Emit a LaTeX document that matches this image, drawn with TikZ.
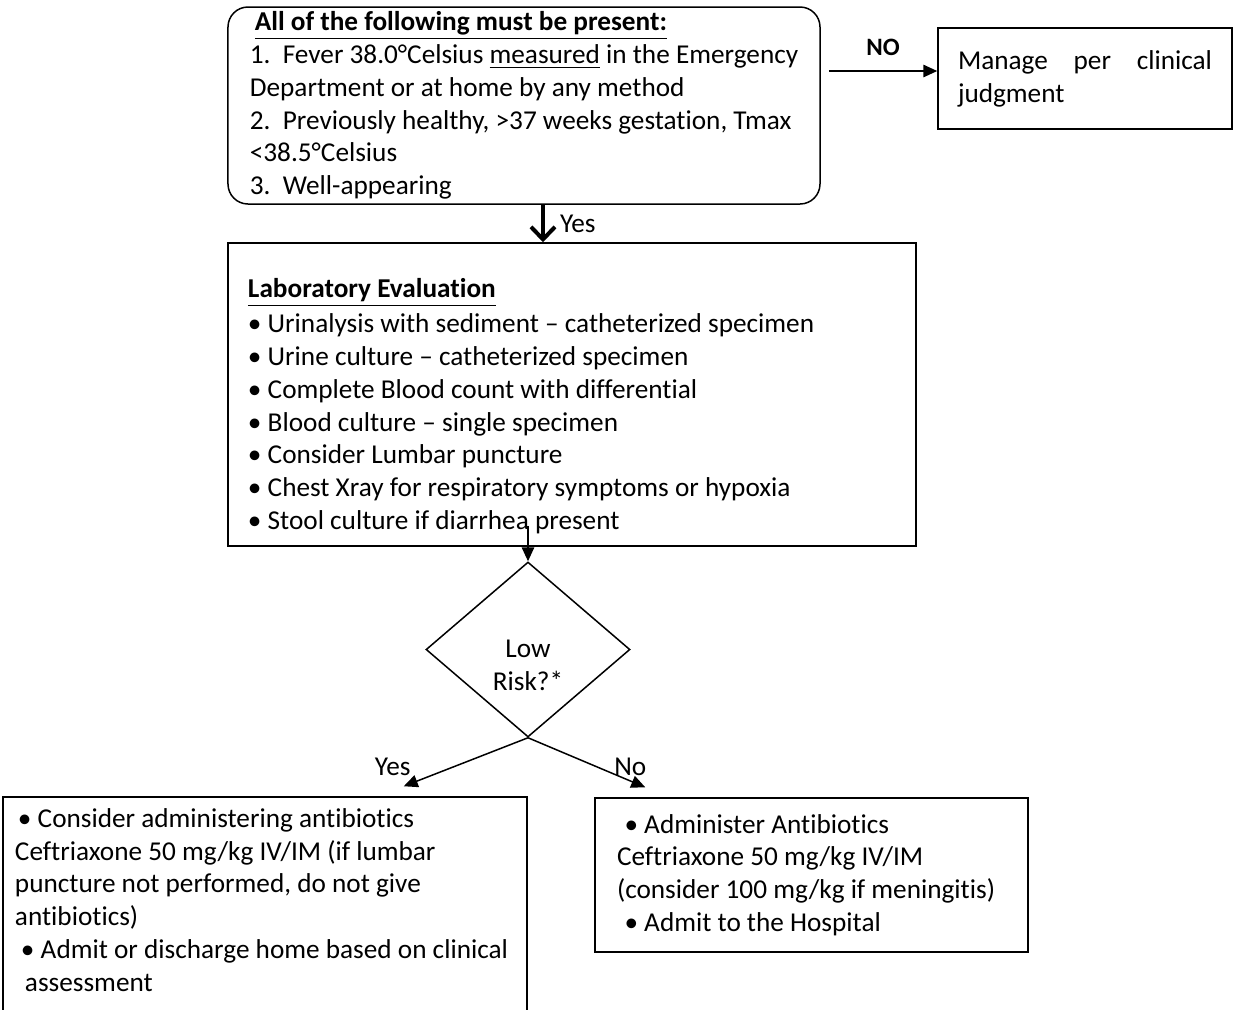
\documentclass[tikz,border=0pt]{standalone}
\usepackage{fontspec}
\setmainfont{Carlito}[Ligatures={NoCommon}]
\usetikzlibrary{arrows.meta,shapes.geometric}
\tikzset{
	txt/.style={font=\fontsize{10.9}{13.1}\selectfont},
	box/.style={draw,line width=0.6pt,inner sep=0pt,txt},
	arr/.style={line width=0.6pt,-{Triangle[length=5.6pt,width=5pt]}},
	yesarr/.style={line width=1.6pt,-{Straight Barb[length=5pt,width=9.6pt]}}
}
\begin{document}
\begin{tikzpicture}[x=0.4pt,y=-0.4pt,txt]
	\useasboundingbox (0,0) rectangle (1234,1009);
	\node[box,rounded corners=8pt,minimum width=236.8pt,minimum height=78.8pt,align=flush left] (crit) at (524,105.5)
		{\hspace*{2pt}\underline{\textbf{All of the following must be present:}}\\
		1.\ \ Fever 38.0°Celsius \underline{measured} in the Emergency\\
		Department or at home by any method\\
		2.\ \ Previously healthy, >37 weeks gestation, Tmax\\
		<38.5°Celsius\\
		3.\ \ Well-appearing};
	\node[box,minimum width=117.6pt,minimum height=40.4pt,text width=101.6pt,inner xsep=8pt,align=justify] (manage) at (1085,78.5)
		{\sloppy Manage per clinical \mbox{judgment}};
	\node[box,minimum width=275.2pt,minimum height=121.2pt,text width=259.2pt,inner xsep=8pt,align=flush left] (lab) at (572,394.5)
		{\rule{0pt}{17pt}\underline{\textbf{Laboratory Evaluation}}\\[1pt]
		• Urinalysis with sediment – catheterized specimen\\
		• Urine culture – catheterized specimen\\
		• Complete Blood count with differential\\
		• Blood culture – single specimen\\
		• Consider Lumbar puncture\\
		• Chest Xray for respiratory symptoms or hypoxia\\
		• Stool culture if diarrhea present};
	\node[box,diamond,minimum width=81.6pt,minimum height=70pt,align=center] (risk) at (528,649.5)
		{\rule{0pt}{19.5pt}Low\\Risk?*};
	\node[box,minimum width=209.6pt,minimum height=87.2pt,text width=200pt,inner xsep=4.8pt,align=flush left] (lowrisk) at (265,906)
		{\hspace*{1.2pt}• Consider administering antibiotics\\
		Ceftriaxone 50 mg/kg IV/IM (if lumbar\\
		puncture not performed, do not give\\
		antibiotics)\\
		\hspace*{2.4pt}• Admit or discharge home based on clinical\\
		\hspace*{4pt}assessment\rule[-5pt]{0pt}{0pt}};
	\node[box,minimum width=173.2pt,minimum height=61.6pt,text width=155.6pt,inner xsep=8.8pt,align=flush left] (highrisk) at (811.5,875)
		{\hspace*{3pt}• Administer Antibiotics\\
		Ceftriaxone 50 mg/kg IV/IM\\
		(consider 100 mg/kg if meningitis)\\
		\hspace*{3pt}• Admit to the Hospital};
	\draw[arr] ([xshift=3.2pt,yshift=3pt]crit.east |- manage.west) -- ([yshift=3pt]manage.west) node[midway,above=2.7pt,font=\bfseries]{NO};
	\draw[yesarr] ([xshift=7.6pt]crit.south) -- ([xshift=7.6pt]crit.south |- lab.north) node[midway,right=2.7pt]{Yes};
	\draw[arr] ([yshift=8.4pt]lab.south -| risk.north) -- (risk.north);
	\draw[arr] (risk.south) -- ([xshift=-49.6pt,yshift=4pt]lowrisk.north east) node[pos=1,xshift=-4.4pt,yshift=7.6pt]{Yes};
	\draw[arr] (risk.south) -- ([xshift=20.4pt,yshift=4pt]highrisk.north west) node[pos=1,xshift=-6pt,yshift=8pt]{No};
\end{tikzpicture}
\end{document}
